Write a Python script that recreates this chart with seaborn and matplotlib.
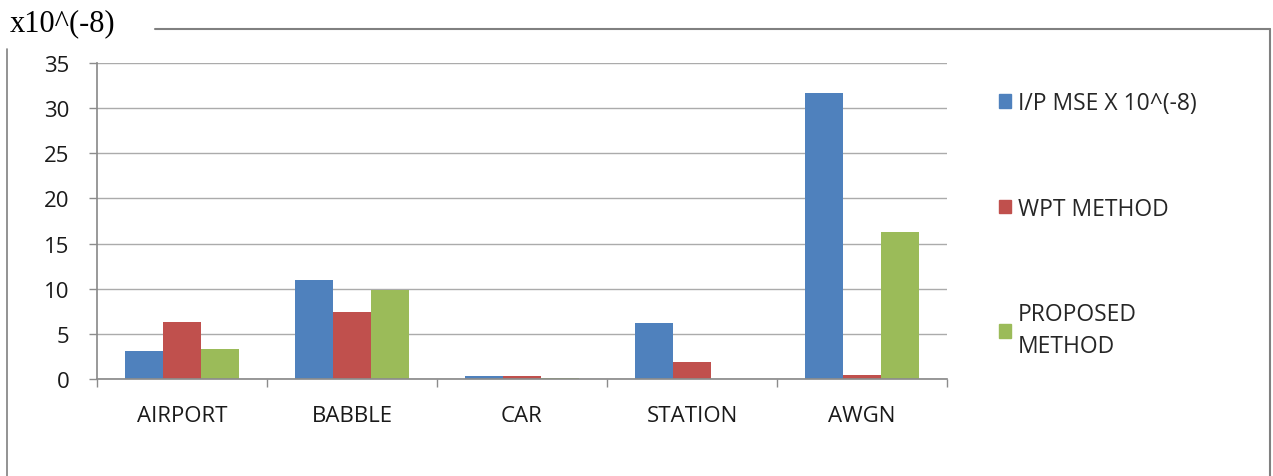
import pandas as pd
import matplotlib

matplotlib.use("Agg")
import matplotlib.pyplot as plt
import seaborn as sns
from matplotlib.lines import Line2D
from matplotlib.ticker import FixedLocator

categories = ["AIRPORT", "BABBLE", "CAR", "STATION", "AWGN"]
series_names = ["I/P MSE X 10^(-8)", "WPT METHOD", "PROPOSED\nMETHOD"]
ip_mse = [3.1, 11.0, 0.3, 6.2, 31.7]
wpt_method = [6.3, 7.4, 0.3, 1.85, 0.45]
proposed_method = [3.3, 9.9, 0.15, 0.0, 16.3]
y_ticks = [0, 5, 10, 15, 20, 25, 30, 35]
colors = ["#4F81BD", "#C0504D", "#9BBB59"]

rows = []
for name, vals in zip(series_names, [ip_mse, wpt_method, proposed_method]):
    for cat, v in zip(categories, vals):
        rows.append({"Noise": cat, "Method": name, "MSE": v})
df = pd.DataFrame(rows)

sns.set_theme(style="white")
plt.rcParams["font.family"] = ["Open Sans", "DejaVu Sans"]

fig = plt.figure(figsize=(12.73, 4.77), dpi=100)
ax = fig.add_axes([0.0762, 0.2034, 0.6677, 0.6626])

sns.barplot(
    data=df, x="Noise", y="MSE", hue="Method", order=categories,
    hue_order=series_names, palette=colors, width=0.67, ax=ax,
    saturation=1, edgecolor="none", errorbar=None,
)

ax.set_xlim(-0.5, 4.5)
ax.set_ylim(0, 35)
ax.set_yticks(y_ticks)
ax.set_xlabel("")
ax.set_ylabel("")
ax.yaxis.grid(True, color="#ababab", linewidth=1.0)
ax.set_axisbelow(True)
for side in ["top", "right"]:
    ax.spines[side].set_visible(False)
ax.spines["left"].set_color("#8c8c8c")
ax.spines["bottom"].set_color("#8c8c8c")

# category separator ticks (Excel style)
ax.xaxis.set_minor_locator(FixedLocator([-0.5, 0.5, 1.5, 2.5, 3.5, 4.5]))
ax.tick_params(axis="x", which="major", length=0, labelsize=16, pad=19, colors="#1a1a1a")
ax.tick_params(axis="x", which="minor", length=6, width=1, color="#8c8c8c", bottom=True)
ax.tick_params(axis="y", which="major", length=6, width=1, color="#8c8c8c",
               left=True, labelsize=16, pad=14, labelcolor="#1a1a1a")

handles = [plt.Rectangle((0, 0), 1, 1, color=c) for c in colors]
leg = ax.legend(handles, series_names, loc="upper left", bbox_to_anchor=(1.05, 0.94),
                frameon=False, fontsize=16.5, handlelength=0.55, handleheight=0.55,
                handletextpad=0.3, labelspacing=3.56, borderaxespad=0)
for t in leg.get_texts():
    t.set_linespacing(1.45)

# outer frame
frame_color = "#808080"
fig.add_artist(Line2D([155 / 1273, 1270 / 1273], [1 - 30 / 477, 1 - 30 / 477],
                      color=frame_color, lw=1.5, transform=fig.transFigure))
fig.add_artist(Line2D([1270 / 1273, 1270 / 1273], [1 - 30 / 477, 0],
                      color=frame_color, lw=1.5, transform=fig.transFigure))
fig.add_artist(Line2D([7 / 1273, 7 / 1273], [1 - 50 / 477, 0],
                      color=frame_color, lw=1.2, transform=fig.transFigure))

fig.text(10 / 1273, 1 - 24 / 477, "x10^(-8)", family="Liberation Serif",
         fontsize=22, va="center", ha="left", color="black")

fig.savefig("out.png", dpi=100, facecolor="white")
plt.close(fig)
